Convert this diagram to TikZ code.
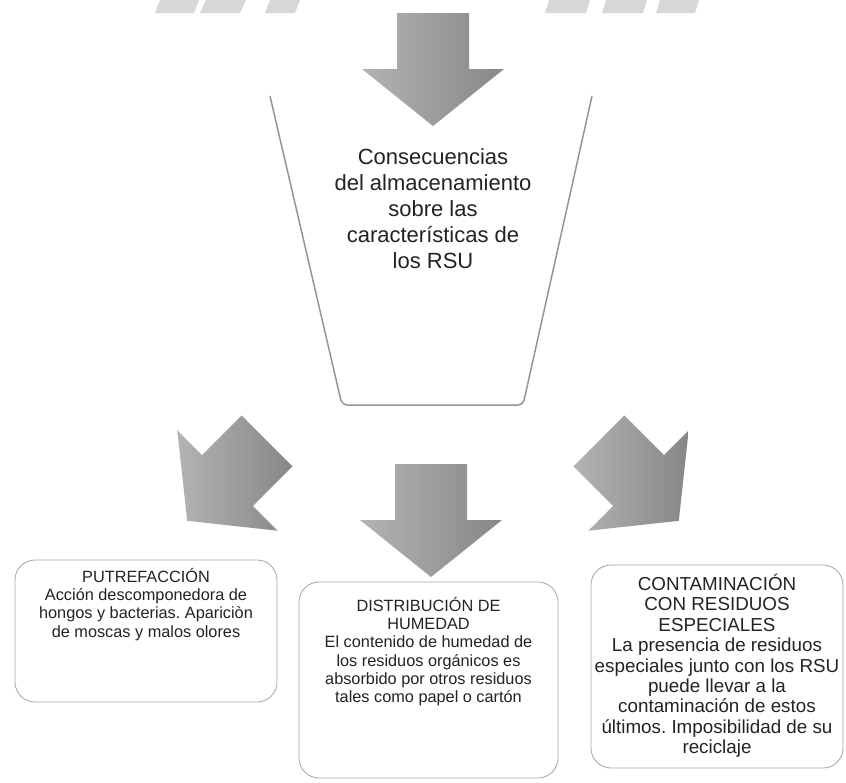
\documentclass[tikz,border=0pt]{standalone}
\usepackage{fontspec}
\setmainfont{Liberation Sans}
\frenchspacing
\definecolor{arrowgray}{RGB}{160,160,160}
\definecolor{arrowdark}{RGB}{135,135,135}
\definecolor{linegray}{RGB}{150,150,150}
\definecolor{boxgray}{RGB}{165,165,165}
\definecolor{txt}{RGB}{35,35,35}
\definecolor{fraggray}{RGB}{215,215,215}
\tikzset{
  blockarrow/.pic={
    \path[left color=arrowgray!80, right color=arrowdark, draw=none]
      (-36,56) -- (36,56) -- (36,0) -- (71,0) -- (0,-57) -- (-71,0) -- (-36,0) -- cycle;
  },
  stepbox/.style={draw=boxgray, line width=0.8pt, rounded corners=20pt, inner sep=0pt},
  smalltxt/.style={text=txt, align=center, inner sep=0pt, anchor=north, font=\fontsize{16.3}{18.3}\selectfont},
  bigtxt/.style={text=txt, align=center, inner sep=0pt, anchor=north, font=\fontsize{18.8}{20.4}\selectfont},
  titletxt/.style={text=txt, align=center, inner sep=0pt, anchor=north, font=\fontsize{22}{26}\selectfont},
  frag/.style={fill=fraggray, draw=none}
}
\begin{document}
\begin{tikzpicture}[x=1pt,y=1pt]
\useasboundingbox (0,0) rectangle (846,-782);
\fill[white] (0,0) rectangle (846,-782);

% cut-off fragments at the top
\fill[frag] (155,-13) -- (160,0) -- (199,0) -- (194,-13) -- cycle;
\fill[frag] (200,-13) -- (206,0) -- (246,0) -- (240,-13) -- cycle;
\fill[frag] (265,-13) -- (270,0) -- (300,0) -- (295,-13) -- cycle;
\fill[frag] (545,-13) -- (549,0) -- (590,0) -- (586,-13) -- cycle;
\fill[frag] (602,-13) -- (606,0) -- (647,0) -- (643,-13) -- cycle;
\fill[frag] (656,-13) -- (660,0) -- (699,0) -- (695,-13) -- cycle;

% top arrow
\pic at (433,-69) {blockarrow};

% trapezoid container
\draw[linegray, line width=1.5pt, rounded corners=5pt]
  (270,-96) -- (342,-405) -- (523,-405) -- (592,-96);

\node[titletxt] (titulo) at (433,-148)
  {Consecuencias\\del almacenamiento\\sobre las\\características de\\los RSU};

% three arrows
\pic[rotate=-45] at (227.5,-480.5) {blockarrow};
\pic at (431,-520) {blockarrow};
\pic[rotate=45] at (638.5,-480.5) {blockarrow};

% boxes
\node[stepbox, minimum width=262pt, minimum height=142pt] (putre) at (146,-631) {};
\node[stepbox, minimum width=259pt, minimum height=196pt] (humedad) at (428.5,-680) {};
\node[stepbox, minimum width=252pt, minimum height=203pt] (contam) at (717,-666.5) {};

\node[smalltxt] (putretxt) at (146,-568)
  {PUTREFACCIÓN\\Acción descomponedora de\\hongos y bacterias. Apariciòn\\de moscas y malos olores};
\node[smalltxt] (humtxt) at (428.5,-597)
  {DISTRIBUCIÓN DE\\HUMEDAD\\El contenido de humedad de\\los residuos orgánicos es\\absorbido por otros residuos\\tales como papel o cartón};
\node[bigtxt] (contxt) at (717,-574)
  {CONTAMINACIÓN\\CON RESIDUOS\\ESPECIALES\\La presencia de residuos\\especiales junto con los RSU\\puede llevar a la\\contaminación de estos\\últimos. Imposibilidad de su\\reciclaje};
\end{tikzpicture}
\end{document}
